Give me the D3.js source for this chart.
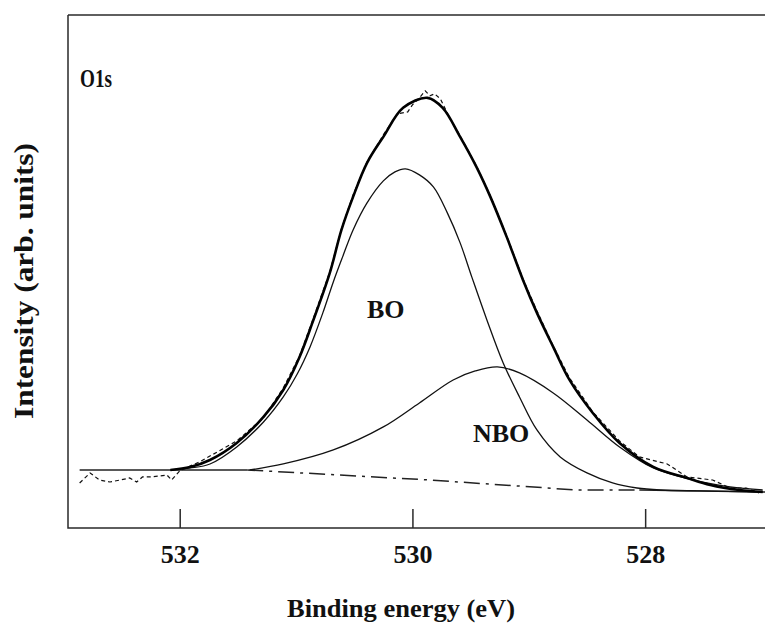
<!DOCTYPE html>
<html>
<head>
<meta charset="utf-8">
<script src="https://cdn.jsdelivr.net/npm/d3@7"></script>
<style>
  html, body { margin: 0; padding: 0; background: #fff; }
  svg { display: block; }
  text { font-family: "Liberation Serif", "Times New Roman", serif; font-weight: bold; fill: #111; }
</style>
</head>
<body>
<svg id="chart" width="765" height="624"></svg>
<script>
// O1s core-level spectrum: measured trace, fitted envelope, BO / NBO components and background
const energyTicks = [532, 530, 528];

const rawEnergy = [532.86, 532.77, 532.69, 532.60, 532.51, 532.43, 532.37, 532.32, 532.26, 532.17, 532.11, 532.07, 532.00, 531.89, 531.83,
  531.51, 531.28, 531.11, 530.97, 530.86, 530.71, 530.61, 530.51, 530.39, 530.25, 530.13, 530.04, 530.00, 529.94, 529.89, 529.85,
  529.81, 529.76, 529.68, 529.59, 529.45, 529.33, 529.19, 529.05, 528.93, 528.79, 528.65, 528.45, 528.22, 528.05, 527.81, 527.64,
  527.42, 527.27, 527.13, 527.02];
const rawIntensity = [878, 1073, 936, 897, 936, 975, 897, 995, 995, 1014, 1034, 936, 1112, 1229, 1287,
  1697, 2145, 2730, 3354, 4037, 4992, 5831, 6494, 7137, 7664, 8073, 8112, 8249, 8385, 8522, 8424,
  8463, 8366, 7995, 7644, 7059, 6474, 5694, 4856, 4232, 3549, 2925, 2262, 1697, 1385, 1248, 995,
  936, 780, 780, 683];

const fitEnergy = [532.08, 531.91, 531.74, 531.51, 531.28, 531.11, 530.97, 530.86, 530.71, 530.61, 530.51, 530.39, 530.25, 530.08,
  529.87, 529.74, 529.59, 529.45, 529.33, 529.19, 529.05, 528.93, 528.79, 528.65, 528.45, 528.22, 527.93, 527.64, 527.44, 527.19, 526.99];
const fitIntensity = [1131, 1190, 1326, 1658, 2165, 2691, 3335, 3998, 4973, 5811, 6455, 7118, 7625, 8190,
  8385, 8190, 7625, 7040, 6455, 5675, 4836, 4193, 3530, 2886, 2243, 1658, 1190, 975, 839, 741, 702];

const boEnergy = [532.08, 531.91, 531.74, 531.51, 531.28, 531.11, 530.99, 530.88, 530.77, 530.68, 530.60, 530.51, 530.39, 530.25,
  530.15, 530.06, 529.94, 529.82, 529.70, 529.59, 529.49, 529.36, 529.22, 529.08, 528.93, 528.73, 528.50, 528.28, 528.07, 527.87, 527.53, 526.99];
const boIntensity = [1131, 1170, 1248, 1580, 2067, 2555, 3003, 3530, 4193, 4797, 5285, 5811, 6338, 6767,
  6942, 7001, 6884, 6650, 6143, 5558, 4895, 4056, 3218, 2555, 1911, 1385, 1073, 878, 780, 741, 722, 702];

const nboEnergy = [531.40, 531.11, 530.68, 530.25, 529.94, 529.65, 529.46, 529.27, 529.08, 528.79, 528.50, 528.22, 527.93, 527.59, 527.27, 526.99];
const nboIntensity = [1131, 1248, 1521, 1970, 2438, 2886, 3061, 3140, 3023, 2633, 2106, 1580, 1170, 936, 800, 741];

const bgEnergy = [532.86, 531.42, 529.85, 528.59, 528.05, 526.97];
const bgIntensity = [1131, 1131, 936, 741, 741, 702];

const zip = (e, i) => e.map((d, k) => ({ e: d, i: i[k] }));
const raw = zip(rawEnergy, rawIntensity);
const fit = zip(fitEnergy, fitIntensity);
const bo = zip(boEnergy, boIntensity);
const nbo = zip(nboEnergy, nboIntensity);
const bg = zip(bgEnergy, bgIntensity);

const svg = d3.select("#chart");
const plotLeft = 68, plotTop = 15, plotBottom = 528, plotRight = 765;

// binding energy runs from high (left) to low (right)
const x = d3.scaleLinear().domain([532.96, 526.97]).range([plotLeft, plotRight]);
const y = d3.scaleLinear().domain([0, 10000]).range([plotBottom, plotTop]);

const smooth = d3.line().x(d => x(d.e)).y(d => y(d.i)).curve(d3.curveCatmullRom.alpha(0.5));
const straight = d3.line().x(d => x(d.e)).y(d => y(d.i));

// frame: left, top and bottom edges (open on the right)
const frame = svg.append("g").attr("stroke", "#2a2a2a").attr("stroke-width", 1.5).attr("fill", "none");
frame.append("path").attr("d", `M${plotLeft},${plotTop}V${plotBottom}H${plotRight}`);
frame.append("path").attr("d", `M${plotLeft},${plotTop}H${plotRight}`);

// inward ticks along the energy axis
const axis = d3.axisBottom(x).tickValues(energyTicks).tickFormat(d3.format("d")).tickSize(-19).tickSizeOuter(0);
const ax = svg.append("g").attr("transform", `translate(0,${plotBottom})`).call(axis);
ax.select(".domain").remove();
ax.selectAll(".tick line").attr("stroke", "#2a2a2a").attr("stroke-width", 1.5);
ax.selectAll(".tick text").attr("y", 35).attr("dy", 0).attr("font-size", 26)
  .attr("font-family", "Liberation Serif, serif").attr("font-weight", "bold").attr("fill", "#111");

// background: flat solid ends, dashed under the peak
const bgLeft = bg.filter(d => d.e >= 531.42);
const bgMid = bg.filter(d => d.e <= 531.42 && d.e >= 528.05);
const bgRight = bg.filter(d => d.e <= 528.05);
svg.append("path").datum(bgLeft).attr("d", straight).attr("fill", "none").attr("stroke", "#222").attr("stroke-width", 1.4);
svg.append("path").datum(bgMid).attr("d", straight).attr("fill", "none").attr("stroke", "#222").attr("stroke-width", 1.5)
  .attr("stroke-dasharray", "16,6,3,6");
svg.append("path").datum(bgRight).attr("d", straight).attr("fill", "none").attr("stroke", "#222").attr("stroke-width", 1.5);

// measured trace
svg.append("path").datum(raw).attr("d", straight).attr("fill", "none").attr("stroke", "#111").attr("stroke-width", 1.2)
  .attr("stroke-dasharray", "4,3");

// fitted components
svg.append("path").datum(bo).attr("d", smooth).attr("fill", "none").attr("stroke", "#111").attr("stroke-width", 1.3);
svg.append("path").datum(nbo).attr("d", smooth).attr("fill", "none").attr("stroke", "#111").attr("stroke-width", 1.3);

// fitted envelope
svg.append("path").datum(fit).attr("d", smooth).attr("fill", "none").attr("stroke", "#000").attr("stroke-width", 2.6);

// labels
svg.append("text").attr("x", 80).attr("y", 87).attr("font-size", 25).attr("textLength", 32)
  .attr("lengthAdjust", "spacingAndGlyphs").text("O1s");
svg.append("text").attr("x", 367).attr("y", 318).attr("font-size", 26).text("BO");
svg.append("text").attr("x", 473).attr("y", 442).attr("font-size", 26).text("NBO");

svg.append("text").attr("x", 401).attr("y", 617).attr("text-anchor", "middle").attr("font-size", 26)
  .attr("textLength", 228).attr("lengthAdjust", "spacingAndGlyphs").text("Binding energy (eV)");
svg.append("text").attr("transform", "translate(33,281) rotate(-90)").attr("text-anchor", "middle").attr("font-size", 27)
  .attr("textLength", 276).attr("lengthAdjust", "spacingAndGlyphs").text("Intensity (arb. units)");
</script>
</body>
</html>
